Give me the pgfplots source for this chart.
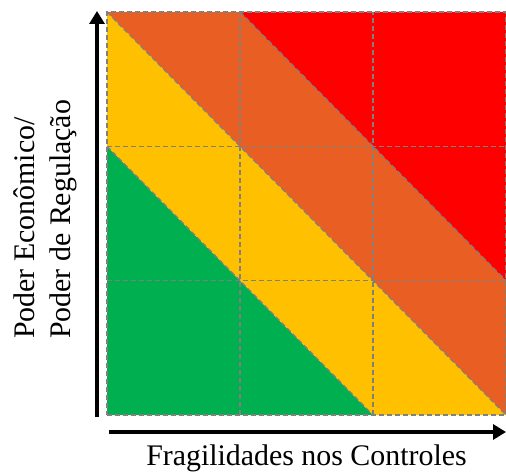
\documentclass[border=0pt]{standalone}
\usepackage{fontspec}
\setmainfont{Liberation Serif}
\usepackage{pgfplots}
\pgfplotsset{compat=1.18}
\usetikzlibrary{arrows.meta}
\definecolor{cgreen}{HTML}{00B050}
\definecolor{cyellow}{HTML}{FFC000}
\definecolor{corange}{HTML}{E95E22}
\definecolor{cred}{HTML}{FF0000}
\definecolor{cgrid}{HTML}{808080}
\tikzset{gl/.style={draw=cgrid, no marks, line width=1.3bp, dash pattern=on 5bp off 3bp}}
\begin{document}
\begin{tikzpicture}
\useasboundingbox (-107bp,-60bp) rectangle (399bp,415bp);
\begin{axis}[at={(0,0)}, anchor=south west,
  scale only axis, width=399bp, height=403bp,
  xmin=0, xmax=3, ymin=0, ymax=3,
  hide axis, clip=false]
% risk bands
\addplot[draw=none, fill=cgreen] coordinates {(0,0) (2,0) (0,2)} -- cycle;
\addplot[draw=none, fill=cyellow] coordinates {(2,0) (3,0) (0,3) (0,2)} -- cycle;
\addplot[draw=none, fill=corange] coordinates {(3,0) (3,1) (1,3) (0,3)} -- cycle;
\addplot[draw=none, fill=cred] coordinates {(3,1) (3,3) (1,3)} -- cycle;
% dashed grid and band borders
\addplot[gl] coordinates {(0,0) (3,0) (3,3) (0,3)} -- cycle;
\addplot[gl] coordinates {(1,0) (1,3)};
\addplot[gl] coordinates {(2,0) (2,3)};
\addplot[gl] coordinates {(0,1) (3,1)};
\addplot[gl] coordinates {(0,2) (3,2)};
\addplot[gl] coordinates {(0,2) (2,0)};
\addplot[gl] coordinates {(0,3) (3,0)};
\addplot[gl] coordinates {(1,3) (3,1)};
\end{axis}
\draw[line width=4.5bp, -{Triangle[length=13bp,width=15bp]}] (-10bp,-2bp) -- (-10bp,404bp);
\draw[line width=4.5bp, -{Triangle[length=13bp,width=15bp]}] (2bp,-17bp) -- (399bp,-17bp);
\node[rotate=90, anchor=base west, inner sep=0, font=\fontsize{30}{34}\selectfont] at (-72bp,76bp) {Poder Econômico/};
\node[rotate=90, anchor=base west, inner sep=0, font=\fontsize{30}{34}\selectfont] at (-37bp,76bp) {Poder de Regulação};
\node[anchor=base, inner sep=0, font=\fontsize{30}{34}\selectfont] at (199.5bp,-50bp) {Fragilidades nos Controles};
\end{tikzpicture}
\end{document}
